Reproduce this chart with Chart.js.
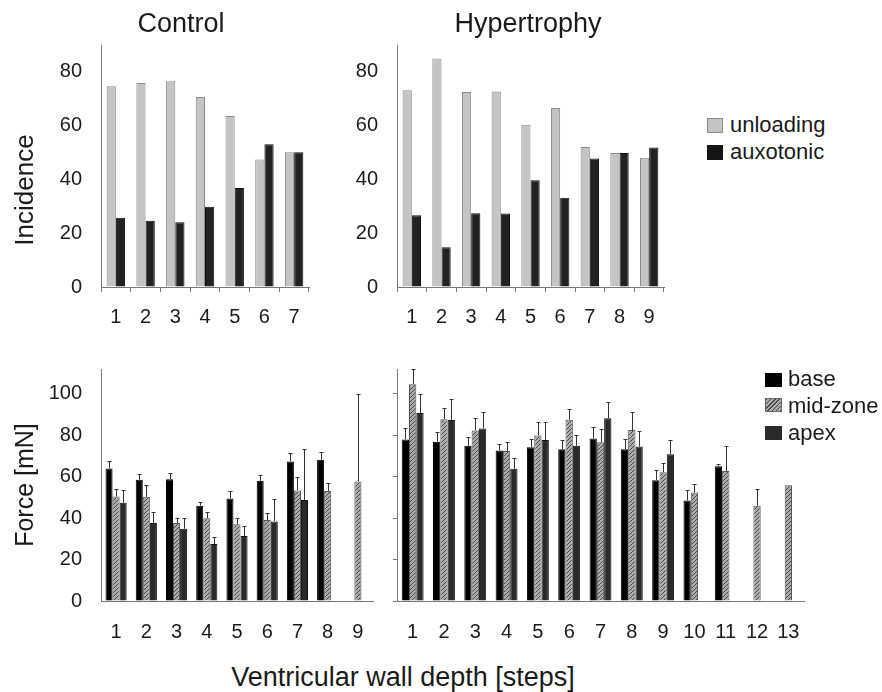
<!DOCTYPE html>
<html>
<head>
<meta charset="utf-8">
<script src="https://cdn.jsdelivr.net/npm/chart.js@4.4.1/dist/chart.umd.min.js"></script>
<style>
body { margin: 0; background: #fff; font-family: "Liberation Sans", Arial, sans-serif; color: #1a1a1a; }
#wrap { position: relative; width: 882px; height: 692px; overflow: hidden; }
canvas { position: absolute; }
.t { position: absolute; white-space: nowrap; line-height: 1; transform: translate(-50%, -50%); }
.rot { transform: translate(-50%, -50%) rotate(-90deg); }
.lg { position: absolute; white-space: nowrap; line-height: 1; font-size: 22px; transform: translateY(-50%); }
.sw { position: absolute; box-sizing: border-box; }
</style>
</head>
<body>
<div id="wrap">
  <canvas id="incCtrl" width="330" height="330" style="left:0;top:0"></canvas>
  <canvas id="incHyp" width="382" height="330" style="left:300px;top:0"></canvas>
  <canvas id="forceCtrl" width="390" height="330" style="left:0;top:330px"></canvas>
  <canvas id="forceHyp" width="500" height="330" style="left:330px;top:330px"></canvas>

  <div class="t" style="left:181px;top:23px;font-size:27px">Control</div>
  <div class="t" style="left:528px;top:23px;font-size:27px">Hypertrophy</div>
  <div class="t rot" style="left:24px;top:190px;font-size:26px">Incidence</div>
  <div class="t rot" style="left:24px;top:485px;font-size:25px">Force [mN]</div>
  <div class="t" style="left:403px;top:677px;font-size:27px">Ventricular wall depth [steps]</div>

  <!-- legend top -->
  <div class="sw" style="left:707px;top:118px;width:16px;height:15px;background:#c4c4c4;border:1px solid #8a8a8a"></div>
  <div class="lg" style="left:730px;top:125px">unloading</div>
  <div class="sw" style="left:707px;top:145px;width:16px;height:15px;background:#151515"></div>
  <div class="lg" style="left:730px;top:152px">auxotonic</div>

  <!-- legend bottom -->
  <div class="sw" style="left:765px;top:373px;width:17px;height:14px;background:#000"></div>
  <div class="lg" style="left:788px;top:379px">base</div>
  <div class="sw" style="left:765px;top:398px;width:17px;height:14px;border:1px solid #666;background:repeating-linear-gradient(-45deg,#4a4a4a 0 1px,#acacac 1px 3px)"></div>
  <div class="lg" style="left:788px;top:406px">mid-zone</div>
  <div class="sw" style="left:765px;top:426px;width:17px;height:14px;background:#2a2a2a"></div>
  <div class="lg" style="left:788px;top:433px">apex</div>
</div>

<script>
// incidence (top)
var ctrlSteps = ["1", "2", "3", "4", "5", "6", "7"];
var ctrlUnloading = [74.7, 75.9, 76.5, 70.7, 63.6, 47.4, 50.1];
var ctrlAuxotonic = [25.8, 24.6, 24.1, 29.8, 36.8, 53.1, 50.1];

var hypSteps = ["1", "2", "3", "4", "5", "6", "7", "8", "9"];
var hypUnloading = [73.2, 85, 72.5, 72.7, 60.3, 66.6, 52.1, 49.8, 48.1];
var hypAuxotonic = [26.7, 14.8, 27.4, 27.3, 39.7, 33.2, 47.8, 49.8, 51.9];

// force (bottom), means and upper error
var forceCtrlSteps = ["1", "2", "3", "4", "5", "6", "7", "8", "9"];
var ctrlBase = [64, 58.5, 58.8, 46, 49.5, 58, 67.4, 68.2, null];
var ctrlBaseErr = [3.7, 2.7, 3.2, 1.9, 3.4, 3, 4.1, 3.5, null];
var ctrlMid = [50.5, 50.3, 37.6, 39.9, 37, 39.1, 53.4, 53.1, 57.7];
var ctrlMidErr = [3.8, 5.6, 2.6, 3.2, 2.9, 3.2, 6.4, 3.8, 42.3];
var ctrlApex = [47.4, 37.6, 34.9, 27.5, 31.4, 38.4, 48.7, null, null];
var ctrlApexErr = [6.3, 5.2, 5.1, 3.2, 4.9, 11, 24.6, null, null];

var forceHypSteps = ["1", "2", "3", "4", "5", "6", "7", "8", "9", "10", "11", "12", "13"];
var hypBase = [78, 76.9, 74.9, 72.7, 74.2, 73.3, 78.4, 73.3, 58.3, 48.5, 65.1, null, null];
var hypBaseErr = [5.6, 4.9, 4.4, 3, 4.2, 4.4, 5.5, 5.1, 4.9, 5.2, 0.8, null, null];
var hypMid = [104.6, 87.8, 82.3, 72.4, 79.9, 87.5, 76.6, 82.5, 62.2, 52.4, 62.7, 46, 55.9];
var hypMidErr = [7.4, 5.2, 6, 4.5, 6.4, 5.2, 6.5, 8.8, 4.6, 4, 12.2, 8, 0];
var hypApex = [90.7, 87.4, 83.3, 63.8, 77.7, 74.9, 88.2, 74.6, 70.9, null, null, null, null];
var hypApexErr = [9.1, 10.2, 7.9, 5.1, 8.6, 5.1, 8, 7.5, 7, null, null, null, null];

Chart.defaults.font.family = "'Liberation Sans', Arial, sans-serif";
Chart.defaults.color = "#1a1a1a";
Chart.defaults.animation = false;

// diagonal hatch for mid-zone
function makeHatch() {
    var c = document.createElement("canvas");
    c.width = 4; c.height = 4;
    var g = c.getContext("2d");
    g.fillStyle = "#acacac";
    g.fillRect(0, 0, 4, 4);
    g.strokeStyle = "#484848";
    g.lineWidth = 1;
    g.beginPath();
    g.moveTo(0, 4); g.lineTo(4, 0);
    g.moveTo(-1, 1); g.lineTo(1, -1);
    g.moveTo(3, 5); g.lineTo(5, 3);
    g.stroke();
    return g.createPattern(c, "repeat");
}
var hatch = makeHatch();

// upper error bars with a small cap
var errorBars = {
    id: "errorBars",
    afterDatasetsDraw: function (chart) {
        var ctx = chart.ctx;
        var ys = chart.scales.y;
        chart.data.datasets.forEach(function (ds, i) {
            if (!ds.errors) return;
            var meta = chart.getDatasetMeta(i);
            meta.data.forEach(function (bar, j) {
                var v = ds.data[j], e = ds.errors[j];
                if (v == null || e == null || e <= 0) return;
                var x = Math.round(bar.x) + 0.5;
                var yTop = Math.round(ys.getPixelForValue(v + e)) + 0.5;
                ctx.save();
                ctx.strokeStyle = "#333";
                ctx.lineWidth = 1;
                ctx.beginPath();
                ctx.moveTo(x, bar.y);
                ctx.lineTo(x, yTop);
                ctx.moveTo(x - 2, yTop);
                ctx.lineTo(x + 2, yTop);
                ctx.stroke();
                ctx.restore();
            });
        });
    }
};

function yScale(max, width, size, showLabels, marks) {
    return {
        min: 0,
        max: max,
        afterBuildTicks: function (s) {
            s.ticks = s.ticks.filter(function (t) { return t.value % 20 === 0; });
        },
        afterFit: function (s) { s.width = width; },
        ticks: { stepSize: 20, display: showLabels, padding: 19, font: { size: size }, color: "#1a1a1a" },
        grid: { drawOnChartArea: false, drawTicks: marks, tickLength: 4, color: "#777" },
        border: { color: "#777", width: 1 }
    };
}

function xScale(height, size, pad, marks) {
    return {
        afterFit: function (s) { s.height = height; },
        ticks: { padding: pad, font: { size: size }, color: "#1a1a1a", maxRotation: 0, autoSkip: false },
        grid: { offset: true, drawOnChartArea: false, drawTicks: marks, tickLength: 5, color: "#777" },
        border: { color: "#777", width: 1 }
    };
}

function makeChart(id, labels, datasets, opts) {
    var ctx = document.getElementById(id).getContext("2d");
    return new Chart(ctx, {
        type: "bar",
        data: { labels: labels, datasets: datasets },
        options: {
            responsive: false,
            animation: false,
            layout: { padding: opts.padding },
            plugins: { legend: { display: false }, tooltip: { enabled: false } },
            scales: { x: opts.x, y: opts.y }
        },
        plugins: [errorBars]
    });
}

function incidenceSets(unl, aux) {
    return [
        { label: "unloading", data: unl, backgroundColor: "#c4c4c4", borderColor: "#8a8a8a", borderWidth: 1,
          categoryPercentage: 0.62, barPercentage: 1.0 },
        { label: "auxotonic", data: aux, backgroundColor: "#222", borderColor: "#111", borderWidth: 1,
          categoryPercentage: 0.62, barPercentage: 1.0 }
    ];
}

function forceSets(b, be, m, me, a, ae) {
    return [
        { label: "base", data: b, errors: be, backgroundColor: "#000", borderColor: "#000", borderWidth: 1,
          categoryPercentage: 0.7, barPercentage: 1.0 },
        { label: "mid-zone", data: m, errors: me, backgroundColor: hatch, borderColor: "#555", borderWidth: 1,
          categoryPercentage: 0.7, barPercentage: 1.0 },
        { label: "apex", data: a, errors: ae, backgroundColor: "#2a2a2a", borderColor: "#111", borderWidth: 1,
          categoryPercentage: 0.7, barPercentage: 1.0 }
    ];
}

makeChart("incCtrl", ctrlSteps, incidenceSets(ctrlUnloading, ctrlAuxotonic), {
    padding: { top: 45, right: 21, left: 0, bottom: 0 },
    x: xScale(43, 20, 13, true),
    y: yScale(90, 101, 20, true, false)
});

makeChart("incHyp", hypSteps, incidenceSets(hypUnloading, hypAuxotonic), {
    padding: { top: 45, right: 18, left: 0, bottom: 0 },
    x: xScale(43, 20, 13, true),
    y: yScale(90, 97, 20, true, false)
});

makeChart("forceCtrl", forceCtrlSteps, forceSets(ctrlBase, ctrlBaseErr, ctrlMid, ctrlMidErr, ctrlApex, ctrlApexErr), {
    padding: { top: 39, right: 17, left: 0, bottom: 0 },
    x: xScale(59, 20, 19, false),
    y: yScale(112, 101, 20, true, false)
});

makeChart("forceHyp", forceHypSteps, forceSets(hypBase, hypBaseErr, hypMid, hypMidErr, hypApex, hypApexErr), {
    padding: { top: 39, right: 26, left: 0, bottom: 0 },
    x: xScale(59, 20, 19, false),
    y: yScale(112, 67, 20, false, true)
});
</script>
</body>
</html>
